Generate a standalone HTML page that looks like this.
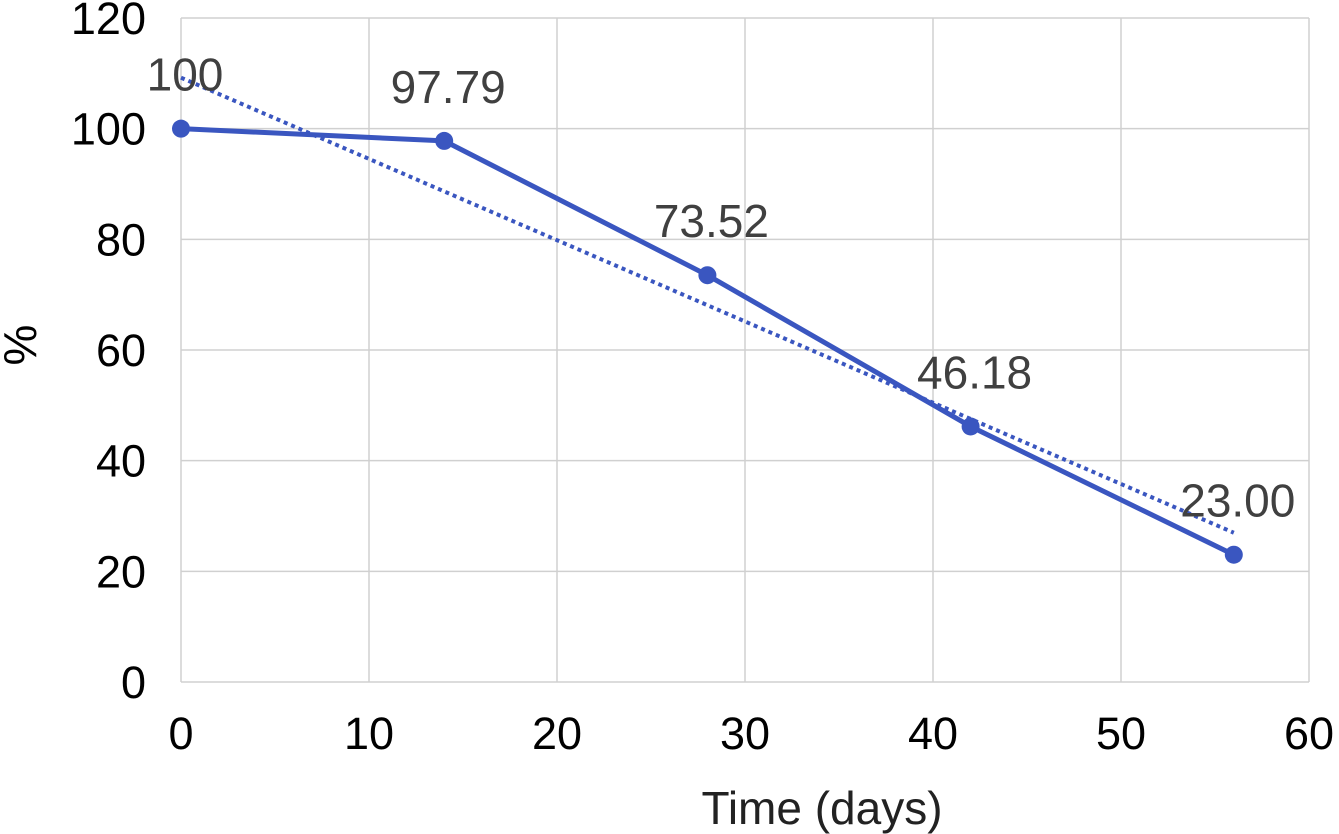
<!DOCTYPE html>
<html><head><meta charset="utf-8"><style>
html,body{margin:0;padding:0;background:#fff;}
svg{display:block;font-family:"Liberation Sans",sans-serif;}
</style></head><body>
<svg id="chart" width="1339" height="834">
<g id="grid"></g>
<g id="axes"></g>
<g id="series"></g>
<text x="36" y="345" font-size="46" text-anchor="middle" transform="rotate(-90 36 345)" fill="#000">%</text>
<text x="822" y="824" font-size="46" text-anchor="middle" fill="#222">Time (days)</text>
</svg>
<script>
const xDays = [0, 14, 28, 42, 56];
const percentValues = [100, 97.79, 73.52, 46.18, 23.00];
const valueLabels = ["100", "97.79", "73.52", "46.18", "23.00"];
const xTicks = [0, 10, 20, 30, 40, 50, 60];
const yTicks = [0, 20, 40, 60, 80, 100, 120];

const NS = "http://www.w3.org/2000/svg";
const x0 = 181, x1 = 1309, y0 = 682, y1 = 18;
const xs = v => x0 + (v - 0) / 60 * (x1 - x0);
const ys = v => y0 - v / 120 * (y0 - y1);
function mk(tag, attrs, parent) {
  const e = document.createElementNS(NS, tag);
  for (const k in attrs) e.setAttribute(k, attrs[k]);
  parent.appendChild(e); return e;
}
const grid = document.getElementById('grid');
const axes = document.getElementById('axes');
const series = document.getElementById('series');

xTicks.forEach(t => {
  const l = mk('line', {x1: xs(t), x2: xs(t), y1: y1, y2: y0, stroke: '#d0d0d0', 'stroke-width': 1.5}, grid);
  
  
  const tx = mk('text', {x: xs(t), y: 749, 'font-size': 45, 'text-anchor': 'middle', fill: '#000'}, axes);
  tx.textContent = t;
  
  
});
yTicks.forEach(t => {
  const l = mk('line', {x1: x0, x2: x1, y1: ys(t), y2: ys(t), stroke: '#d0d0d0', 'stroke-width': 1.5}, grid);
  
  
  const tx = mk('text', {x: 146, y: ys(t) + 16, 'font-size': 45, 'text-anchor': 'end', fill: '#000'}, axes);
  tx.textContent = t;
  
  
});

// linear trendline
const n = xDays.length;
const mx = xDays.reduce((a, b) => a + b, 0) / n;
const my = percentValues.reduce((a, b) => a + b, 0) / n;
let sxy = 0, sxx = 0;
for (let i = 0; i < n; i++) { sxy += (xDays[i] - mx) * (percentValues[i] - my); sxx += (xDays[i] - mx) ** 2; }
const slope = sxy / sxx, icpt = my - slope * mx;
const xa = xDays[0], xb = xDays[n - 1];
const tr = mk('line', {x1: xs(xa), y1: ys(icpt + slope * xa), x2: xs(xb), y2: ys(icpt + slope * xb), stroke: '#3a56c0', 'stroke-width': 4, 'stroke-dasharray': '4 4'}, series);



const pts = xDays.map((d, i) => xs(d) + ',' + ys(percentValues[i])).join(' ');
const pl = mk('polyline', {points: pts, fill: 'none', stroke: '#3a56c0', 'stroke-width': 5, 'stroke-linejoin': 'round'}, series);



xDays.forEach((d, i) => {
  const c = mk('circle', {cx: xs(d), cy: ys(percentValues[i]), r: 9, fill: '#3a56c0'}, series);
  
  
  let ly = ys(percentValues[i]) - 38;
  if (ly < 80) ly = 80;
  const tx = mk('text', {x: xs(d) + 4, y: ly, 'font-size': 46, 'text-anchor': 'middle', fill: '#404040'}, series);
  tx.textContent = valueLabels[i];
  
  
});
</script>
</body></html>
